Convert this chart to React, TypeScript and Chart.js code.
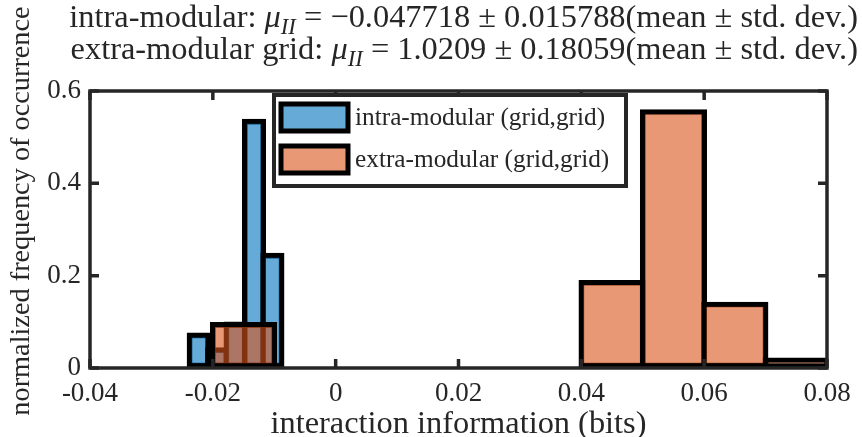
import React, { useEffect, useRef } from 'react';
import { Chart, registerables } from 'chart.js';

Chart.register(...registerables);

// ---- data ----
const intraCenters = [-0.0223, -0.0193, -0.0163, -0.0133, -0.0103];
const intraValues = [0.076, 0.044, 0.1, 0.539, 0.249];
const intraBinWidth = 0.003;
const extraCenters = [-0.015, -0.005, 0.005, 0.015, 0.025, 0.035, 0.045, 0.055, 0.065, 0.075];
const extraValues = [0.099, 0, 0, 0, 0, 0, 0.19, 0.56, 0.143, 0.022];
const extraBinWidth = 0.01;
const xTickLabels = ['-0.04', '-0.02', '0', '0.02', '0.04', '0.06', '0.08'];
const yTickLabels = ['0', '0.2', '0.4', '0.6'];
const seriesNames = ['intra-modular (grid,grid)', 'extra-modular (grid,grid)'];
const xTitle = 'interaction information (bits)';
const yTitle = 'normalized frequency of occurrence';
type Seg = { t: string; it?: boolean; sub?: boolean };
const titleLine1: Seg[] = [
  { t: 'intra-modular: ' },
  { t: 'μ', it: true },
  { t: 'II', it: true, sub: true },
  { t: ' = −0.047718 ± 0.015788(mean ± std. dev.)' },
];
const titleLine2: Seg[] = [
  { t: 'extra-modular grid: ' },
  { t: 'μ', it: true },
  { t: 'II', it: true, sub: true },
  { t: ' = 1.0209 ± 0.18059(mean ± std. dev.)' },
];

const FAMILY = "'Liberation Serif', 'DejaVu Serif', serif";
const TEXT = '#262626';
const BLUE = 'rgba(0,114,189,0.6)';
const ORANGE = 'rgba(217,83,25,0.6)';
const EDGE = 5;

const r1 = (v: number) => Math.round(v * 10) / 10;
function segFont(s: Seg, size: number) {
  return `${s.it ? 'italic ' : ''}${r1(s.sub ? size * 0.7 : size)}px ${FAMILY}`;
}
function segWidth(ctx: CanvasRenderingContext2D, segs: Seg[], size: number) {
  let w = 0;
  for (const s of segs) {
    ctx.font = segFont(s, size);
    w += ctx.measureText(s.t).width;
  }
  return w;
}
function drawSegs(ctx: CanvasRenderingContext2D, segs: Seg[], size: number, xRight: number, baseline: number) {
  let x = xRight - segWidth(ctx, segs, size);
  for (const s of segs) {
    ctx.font = segFont(s, size);
    ctx.fillText(s.t, x, baseline + (s.sub ? size * 0.22 : 0));
    x += ctx.measureText(s.t).width;
  }
}
function fitSize(ctx: CanvasRenderingContext2D, text: string, target: number) {
  ctx.font = `100px ${FAMILY}`;
  return r1((100 * target) / ctx.measureText(text).width);
}

const decor = {
  id: 'decor',
  afterDatasetsDraw(chart: any) {
    const { ctx, chartArea: a } = chart;
    const xs = chart.scales.x;
    const ys = chart.scales.y;
    ctx.save();
    // frame
    ctx.strokeStyle = TEXT;
    ctx.lineWidth = 3.5;
    ctx.strokeRect(a.left, a.top, a.right - a.left, a.bottom - a.top);
    // inward ticks
    const tl = 9;
    ctx.beginPath();
    xs.ticks.forEach((t: any) => {
      const p = xs.getPixelForValue(t.value);
      ctx.moveTo(p, a.bottom);
      ctx.lineTo(p, a.bottom - tl);
      ctx.moveTo(p, a.top);
      ctx.lineTo(p, a.top + tl);
    });
    ys.ticks.forEach((t: any) => {
      const p = ys.getPixelForValue(t.value);
      ctx.moveTo(a.left, p);
      ctx.lineTo(a.left + tl, p);
      ctx.moveTo(a.right, p);
      ctx.lineTo(a.right - tl, p);
    });
    ctx.stroke();

    // legend
    const lx = 274, ly = 95, lw = 352, lh = 91;
    ctx.fillStyle = '#ffffff';
    ctx.fillRect(lx, ly, lw, lh);
    ctx.lineWidth = 4;
    ctx.strokeStyle = TEXT;
    ctx.strokeRect(lx, ly, lw, lh);
    const fills = [BLUE, ORANGE];
    const legSize = fitSize(ctx, seriesNames[0], 250);
    seriesNames.forEach((name, i) => {
      const sy = 104 + i * 42;
      ctx.fillStyle = fills[i];
      ctx.fillRect(281, sy, 67, 27);
      ctx.lineWidth = 5;
      ctx.strokeStyle = '#000000';
      ctx.strokeRect(281, sy, 67, 27);
      ctx.fillStyle = TEXT;
      ctx.font = `${legSize}px ${FAMILY}`;
      ctx.textBaseline = 'alphabetic';
      ctx.textAlign = 'left';
      ctx.fillText(name, 355, sy + 21);
    });
    ctx.restore();
  },
  afterDraw(chart: any) {
    const { ctx, chartArea: a } = chart;
    ctx.save();
    ctx.fillStyle = TEXT;
    ctx.textBaseline = 'alphabetic';
    ctx.textAlign = 'left';
    // titles
    const s1 = (100 * 773) / segWidth(ctx, titleLine1, 100);
    const s2 = (100 * 804) / segWidth(ctx, titleLine2, 100);
    const s = (s1 + s2) / 2;
    drawSegs(ctx, titleLine1, s, 858, 27);
    drawSegs(ctx, titleLine2, s, 858, 59);
    // x title
    const xSize = fitSize(ctx, xTitle, 376);
    ctx.font = `${xSize}px ${FAMILY}`;
    ctx.textAlign = 'center';
    ctx.textBaseline = 'middle';
    ctx.fillText(xTitle, (a.left + a.right) / 2, 424);
    // y title
    const ySize = fitSize(ctx, yTitle, 410);
    ctx.font = `${ySize}px ${FAMILY}`;
    ctx.translate(22, 211);
    ctx.rotate(-Math.PI / 2);
    ctx.fillText(yTitle, 0, 0);
    ctx.restore();
  },
};

// bar thickness from the bin width via the x scale (edge line centred on bin edges)
const thicknessFor = (binW: number) => (c: any) => {
  const sc = c.chart.scales.x;
  const w = Math.abs(sc.getPixelForValue(binW) - sc.getPixelForValue(0));
  return isFinite(w) && w > 0 ? w + EDGE : 1;
};

const barStyle = {
  borderColor: '#000000',
  borderWidth: EDGE,
  borderSkipped: false,
  grouped: false,
};

export default function App() {
  const ref = useRef<HTMLCanvasElement>(null);
  useEffect(() => {
    if (!ref.current) return;
    const chart = new Chart(ref.current, {
      type: 'bar',
      data: {
        datasets: [
          {
            label: seriesNames[0],
            data: intraCenters.map((x, i) => ({ x, y: intraValues[i] })),
            xAxisID: 'x',
            backgroundColor: BLUE,
            order: 2,
            barThickness: thicknessFor(intraBinWidth),
            ...barStyle,
          } as any,
          {
            label: seriesNames[1],
            data: extraCenters.map((x, i) => ({ x, y: extraValues[i] })),
            xAxisID: 'x',
            backgroundColor: ORANGE,
            order: 1,
            barThickness: thicknessFor(extraBinWidth),
            ...barStyle,
          } as any,
        ],
      },
      options: {
        responsive: false,
        animation: false,
        layout: { padding: { top: 91, right: 35, left: 0, bottom: 0 } },
        plugins: { legend: { display: false }, title: { display: false }, tooltip: { enabled: false } },
        scales: {
          x: {
            type: 'linear',
            min: -0.04,
            max: 0.08,
            offset: false,
            grid: { display: false, drawTicks: false },
            border: { display: false },
            ticks: {
              stepSize: 0.02,
              padding: 10,
              color: TEXT,
              font: { family: FAMILY, size: 27 },
              maxRotation: 0,
              callback: (_v: any, i: number) => xTickLabels[i],
            },
            afterFit: (s: any) => {
              s.height = 69;
            },
          },
          y: {
            min: 0,
            max: 0.6,
            grid: { display: false, drawTicks: false },
            border: { display: false },
            ticks: {
              stepSize: 0.2,
              padding: 9,
              color: TEXT,
              font: { family: FAMILY, size: 27 },
              callback: (_v: any, i: number) => yTickLabels[i],
            },
            afterFit: (s: any) => {
              s.width = 90;
            },
          },
        } as any,
      },
      plugins: [decor],
    });
    return () => chart.destroy();
  }, []);
  return (
    <div style={{ position: 'absolute', left: 0, top: 0, width: 862, height: 437, background: '#fff' }}>
      <canvas ref={ref} width={862} height={437} style={{ display: 'block' }} />
    </div>
  );
}
